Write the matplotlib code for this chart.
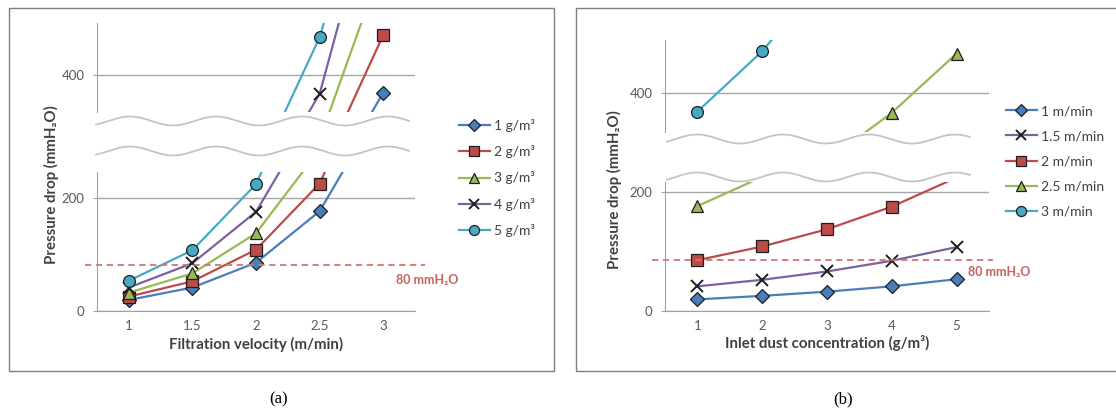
import matplotlib
matplotlib.use("Agg")
import matplotlib.pyplot as plt
import numpy as np
from matplotlib.lines import Line2D
from matplotlib.patches import Rectangle

# filtration velocity (m/min) and inlet dust concentration (g/m3)
velocity = [1, 1.5, 2, 2.5, 3]
concentration = [1, 2, 3, 4, 5]

# pressure drop (mmH2O) for each velocity, over concentration 1..5
dp_v10 = [19, 25, 32, 41, 53]
dp_v15 = [41, 52, 66, 84, 107]
dp_v20 = [85, 108, 137, 175, 224]
dp_v25 = [176, 225, 285, 366, 466]
dp_v30 = [368, 470, 600, 780, 850]

limit_a = 80
limit_b = 85

conc_labels = ["1 g/m³", "2 g/m³", "3 g/m³", "4 g/m³", "5 g/m³"]
vel_labels = ["1 m/min", "1.5 m/min", "2 m/min", "2.5 m/min", "3 m/min"]

plt.rcParams['font.family'] = ['Lato', 'DejaVu Sans']

W, H = 1116, 412
fig = plt.figure(figsize=(W / 100, H / 100), dpi=100)

table = np.array([dp_v10, dp_v15, dp_v20, dp_v25, dp_v30])

blue, red, green, purple, cyan = '#4a7ebb', '#be4b48', '#98b954', '#7d60a0', '#46aac5'
edge = '#1e1e1e'
axis_col = '#a0a0a0'
text_col = '#404040'
tick_col = '#595959'
limit_col = '#d27474'


def px_axes(x0, y0, x1, y1):
    return fig.add_axes([x0 / W, 1 - y1 / H, (x1 - x0) / W, (y1 - y0) / H])


def style(ax, lim, ticks, lower, xticklabels):
    ax.set_xlim(-0.5, 4.5)
    ax.set_ylim(*lim)
    ax.patch.set_visible(False)
    for s in ['top', 'right']:
        ax.spines[s].set_visible(False)
    ax.spines['left'].set_color(axis_col)
    ax.spines['bottom'].set_color(axis_col)
    ax.set_yticks(ticks)
    ax.yaxis.grid(True, color='#a6a6a6', lw=1)
    ax.set_axisbelow(True)
    ax.tick_params(axis='y', length=3, color=axis_col, labelcolor=tick_col, labelsize=9.5, pad=6)
    if lower:
        ax.set_xticks(range(5))
        ax.set_xticklabels(xticklabels)
        ax.tick_params(axis='x', length=0, labelcolor=tick_col, labelsize=9.5, pad=7)
    else:
        ax.spines['bottom'].set_visible(False)
        ax.set_xticks([])


def wave(x0, x1, yc, peak, period=86, amp=4.5):
    xs = np.linspace(x0, x1, 200)
    ys = yc - amp * np.cos(2 * np.pi * (xs - peak) / period)
    fig.add_artist(Line2D(xs / W, 1 - ys / H, transform=fig.transFigure,
                          color='#c4c4c4', lw=1.3))


def draw(ax, series, styles):
    lo, hi = ax.get_ylim()
    handles = []
    for vals, (col, mk, ms) in zip(series, styles):
        if mk == 'x':
            kw = dict(mfc=edge, mec=edge, mew=1.4)
        else:
            kw = dict(mfc=col, mec=edge, mew=0.9)
        vals = np.asarray(vals, dtype=float)
        ax.plot(range(5), vals, color=col, lw=1.6)
        # markers only where the point falls inside this part of the broken axis
        shown = np.where((vals >= lo) & (vals <= hi), vals, np.nan)
        ax.plot(range(5), shown, ls='none', marker=mk, ms=ms, **kw)
        handles.append(Line2D([], [], color=col, lw=1.6, marker=mk, ms=ms, **kw))
    return handles


# ---------- panel (a): pressure drop vs filtration velocity ----------
styles_a = [(blue, 'D', 7.5), (red, 's', 8), (green, '^', 8.5), (purple, 'x', 8), (cyan, 'o', 8.5)]
series_a = [table[:, j] for j in range(5)]
vel_ticks = [f"{v:g}" for v in velocity]

a_low = px_axes(97, 171.7, 415, 310.7)
a_up = px_axes(97, 22.7, 415, 112)
style(a_low, (0, 246), [0, 200], True, vel_ticks)
style(a_up, (334, 492), [400], False, None)
h_a = draw(a_low, series_a, styles_a)
draw(a_up, series_a, styles_a)
a_low.axhline(limit_a, xmin=-0.038, xmax=1.03, clip_on=False, color=limit_col,
              ls=(0, (3.5, 2.5)), lw=1.3)

wave(96, 409, 121, 130)
wave(96, 409, 151, 130)

fig.text(427 / W, 1 - 280 / H, "80 mmH₂O", color='#c9615d', fontsize=9,
         fontweight='bold', ha='center', va='center')
fig.text(256 / W, 1 - 344 / H, "Filtration velocity (m/min)", color=text_col, fontsize=10.8,
         fontweight='bold', ha='center', va='center')
fig.text(51 / W, 1 - 185 / H, "Pressure drop (mmH₂O)", color=text_col, fontsize=10.8,
         fontweight='bold', ha='center', va='center', rotation=90)
fig.legend(h_a, conc_labels, loc='upper left', bbox_to_anchor=(459 / W, 1 - 119 / H),
           frameon=False, borderpad=0, borderaxespad=0, handlelength=2.2, handletextpad=0.3,
           labelspacing=0.95, fontsize=10, labelcolor=text_col, markerscale=0.85)

# ---------- panel (b): pressure drop vs inlet dust concentration ----------
styles_b = [(blue, 'D', 7.5), (purple, 'x', 8), (red, 's', 8), (green, '^', 8.5), (cyan, 'o', 8.5)]
series_b = [table[i, :] for i in range(5)]
conc_ticks = [f"{c:g}" for c in concentration]

b_low = px_axes(665, 181.7, 989, 310.7)
b_up = px_axes(665, 40, 989, 131.7)
style(b_low, (0, 217), [0, 200], True, conc_ticks)
style(b_up, (334, 489), [400], False, None)
h_b = draw(b_low, series_b, styles_b)
draw(b_up, series_b, styles_b)
b_low.axhline(limit_b, xmin=-0.04, xmax=1.012, clip_on=False, color=limit_col,
              ls=(0, (3.5, 2.5)), lw=1.3)

wave(667, 970, 139, 697)
wave(667, 970, 177, 697)

fig.text(999 / W, 1 - 272 / H, "80 mmH₂O", color='#c9615d', fontsize=9,
         fontweight='bold', ha='center', va='center')
fig.text(827 / W, 1 - 343 / H, "Inlet dust concentration (g/m³)", color=text_col, fontsize=10.8,
         fontweight='bold', ha='center', va='center')
fig.text(614 / W, 1 - 190 / H, "Pressure drop (mmH₂O)", color=text_col, fontsize=10.8,
         fontweight='bold', ha='center', va='center', rotation=90)
fig.legend(h_b, vel_labels, loc='upper left', bbox_to_anchor=(1006 / W, 1 - 105 / H),
           frameon=False, borderpad=0, borderaxespad=0, handlelength=2.2, handletextpad=0.3,
           labelspacing=0.95, fontsize=10, labelcolor=text_col, markerscale=0.85)

# outer frames and captions
fig.add_artist(Rectangle((9 / W, 1 - 371 / H), 545 / W, 363 / H, fill=False,
                         ec='#7f7f7f', lw=1, transform=fig.transFigure))
fig.add_artist(Rectangle((576 / W, 1 - 371 / H), 560 / W, 363 / H, fill=False,
                         ec='#7f7f7f', lw=1, transform=fig.transFigure))
fig.text(279 / W, 1 - 399 / H, "(a)", family='Liberation Serif', fontsize=12,
         ha='center', va='center', color='black')
fig.text(843 / W, 1 - 399 / H, "(b)", family='Liberation Serif', fontsize=12,
         ha='center', va='center', color='black')

fig.savefig("out.png", dpi=100)
